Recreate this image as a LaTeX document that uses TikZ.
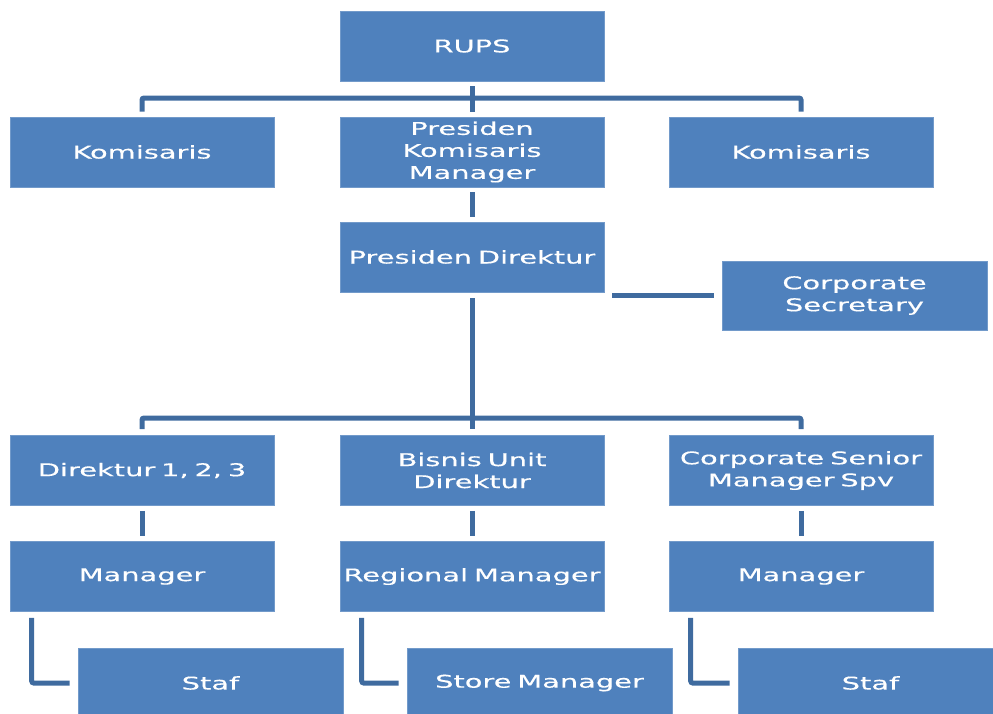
\documentclass[tikz,border=0pt]{standalone}
\usepackage{fontspec}
\newfontfamily\boxfont[FakeStretch=1.65,FakeBold=0.4]{DejaVu Sans}
\definecolor{boxblue}{HTML}{4F81BD}
\definecolor{linkblue}{HTML}{3F6B9F}
\begin{document}
\begin{tikzpicture}[x=1pt,y=-1pt,
  orgbox/.style={fill=boxblue, draw=boxblue!80!white, line width=0.6pt, inner sep=0pt,
    text width=264pt, minimum width=264pt, minimum height=70pt, align=center,
    text=white, font=\boxfont\fontsize{17.5}{22}\selectfont},
  link/.style={draw=linkblue, line width=5pt, rounded corners=2pt}]
\useasboundingbox (0,0) rectangle (993,713);
\begin{scope}
\clip (0,0) rectangle (993,713);
% boxes
\node[orgbox] (rups) at (472,46) {RUPS};
\node[orgbox] (komL) at (142,152) {Komisaris};
\node[orgbox] (pkm) at (472,152) {Presiden\\Komisaris\\Manager};
\node[orgbox] (komR) at (801,152) {Komisaris};
\node[orgbox] (pd) at (472,257) {Presiden Direktur};
\node[orgbox, minimum height=69pt, text width=265pt, minimum width=265pt] (cs) at (854.5,295.5) {Corporate\\Secretary};
\node[orgbox] (dir) at (142,470.5) {Direktur 1, 2, 3};
\node[orgbox] (bud) at (472,470.5) {Bisnis Unit\\Direktur};
\node[orgbox] (csm) at (801,470.5) {Corporate Senior\\Manager Spv};
\node[orgbox] (manL) at (142,576.5) {Manager};
\node[orgbox] (reg) at (472,576.5) {Regional Manager};
\node[orgbox] (manR) at (801,576.5) {Manager};
\node[orgbox, text width=265pt, minimum width=265pt] (stafL) at (210.5,683) {Staf};
\node[orgbox, text width=265pt, minimum width=265pt] (store) at (539.5,683) {Store Manager};
\node[orgbox, text width=265pt, minimum width=265pt] (stafR) at (870.5,683) {Staf};
\end{scope}
% RUPS to second row
\coordinate (bus1) at (472,98);
\draw[link] ([yshift=-5pt]rups.south) -- ([yshift=5pt]pkm.north);
\draw[link] ([yshift=5pt]komL.north) |- (bus1) -| ([yshift=5pt]komR.north);
% PKM to PD
\draw[link] ([yshift=-5pt]pkm.south) -- ([yshift=5pt]pd.north);
% PD to Corporate Secretary
\draw[link] ([xshift=-8pt]cs.west) -- ([xshift=8pt]cs.west -| pd.east);
% PD to third row
\coordinate (bus2) at (472,418);
\draw[link] ([yshift=-6pt]pd.south) -- ([yshift=6pt]bud.north);
\draw[link] ([yshift=6pt]dir.north) |- (bus2) -| ([yshift=6pt]csm.north);
% third row to fourth row
\draw[link] ([yshift=-5pt]dir.south) -- ([yshift=5pt]manL.north);
\draw[link] ([yshift=-5pt]bud.south) -- ([yshift=5pt]reg.north);
\draw[link] ([yshift=-5pt]csm.south) -- ([yshift=5pt]manR.north);
% elbows
\draw[link] ([xshift=22pt,yshift=-6pt]manL.south west) |- ([xshift=-8pt]stafL.west);
\draw[link] ([xshift=22pt,yshift=-6pt]reg.south west) |- ([xshift=-8pt]store.west);
\draw[link] ([xshift=22pt,yshift=-6pt]manR.south west) |- ([xshift=-8pt]stafR.west);
\end{tikzpicture}
\end{document}
